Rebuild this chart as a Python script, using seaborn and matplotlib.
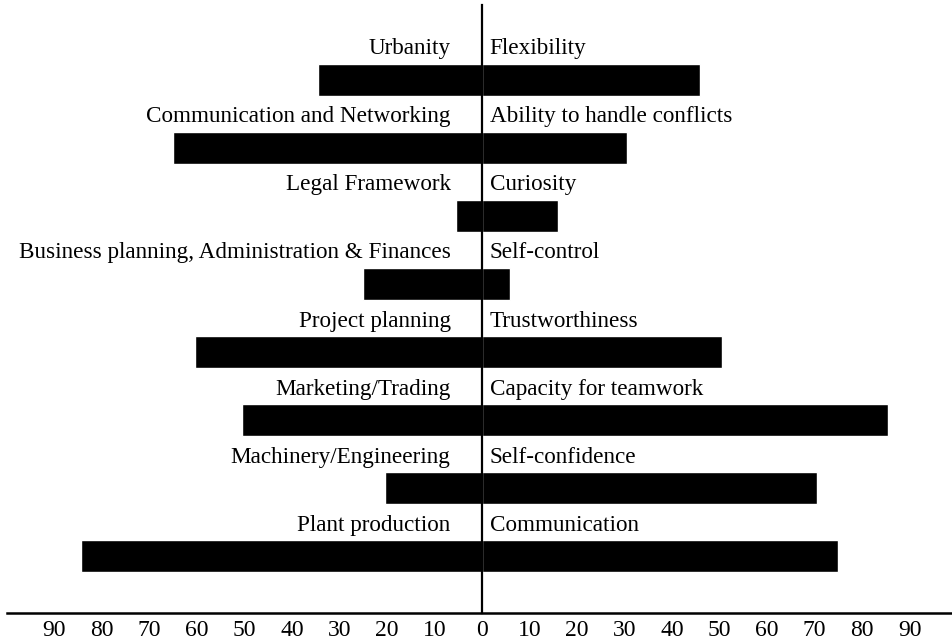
import pandas as pd
import matplotlib.pyplot as plt
import seaborn as sns

# Data
left_labels = ["Urbanity", "Communication and Networking", "Legal Framework",
               "Business planning, Administration & Finances", "Project planning",
               "Marketing/Trading", "Machinery/Engineering", "Plant production"]
left_values = [34.5, 65, 5.5, 25, 60.5, 50.5, 20.5, 84.5]

right_labels = ["Flexibility", "Ability to handle conflicts", "Curiosity", "Self-control",
                "Trustworthiness", "Capacity for teamwork", "Self-confidence", "Communication"]
right_values = [46, 30.5, 16, 6, 50.5, 85.5, 70.5, 75]

tick_values = list(range(-90, 100, 10))
tick_labels = [str(abs(v)) for v in tick_values]

df = pd.DataFrame({"row": left_labels,
                   "left": [-v for v in left_values],
                   "right": right_values})

sns.set_style("white")
plt.rcParams['font.family'] = ['Liberation Serif', 'DejaVu Serif']

fig = plt.figure(figsize=(9.53, 6.4), dpi=100)
ax = fig.add_axes([0.0073, 0.0427, 0.9969, 0.9495])

bar_h = 0.47
sns.barplot(data=df, x="left", y="row", orient="h", color="black",
            width=bar_h, errorbar=None, ax=ax)
sns.barplot(data=df, x="right", y="row", orient="h", color="black",
            width=bar_h, errorbar=None, ax=ax)

# labels above each bar
for i, row in df.iterrows():
    ax.text(-6.6, i - bar_h / 2 - 0.14, row["row"], ha="right", va="baseline",
            fontsize=16.7, color="black")
    ax.text(1.6, i - bar_h / 2 - 0.14, right_labels[i], ha="left", va="baseline",
            fontsize=16.7, color="black")

ax.set_xlim(-100, 100)
ax.set_ylim(7.83, -1.10)
ax.set_yticks([])
ax.set_xlabel("")
ax.set_ylabel("")

ax.set_xticks(tick_values)
ax.set_xticklabels(tick_labels, fontsize=17)
ax.tick_params(axis="x", direction="inout", length=7, width=1.5, pad=2, colors="black")

for side in ["top", "right"]:
    ax.spines[side].set_visible(False)
ax.spines["left"].set_position(("data", 0))
ax.spines["left"].set_linewidth(1.6)
ax.spines["left"].set_color("black")
ax.spines["bottom"].set_linewidth(1.8)
ax.spines["bottom"].set_color("black")

plt.savefig("out.png", dpi=100)
